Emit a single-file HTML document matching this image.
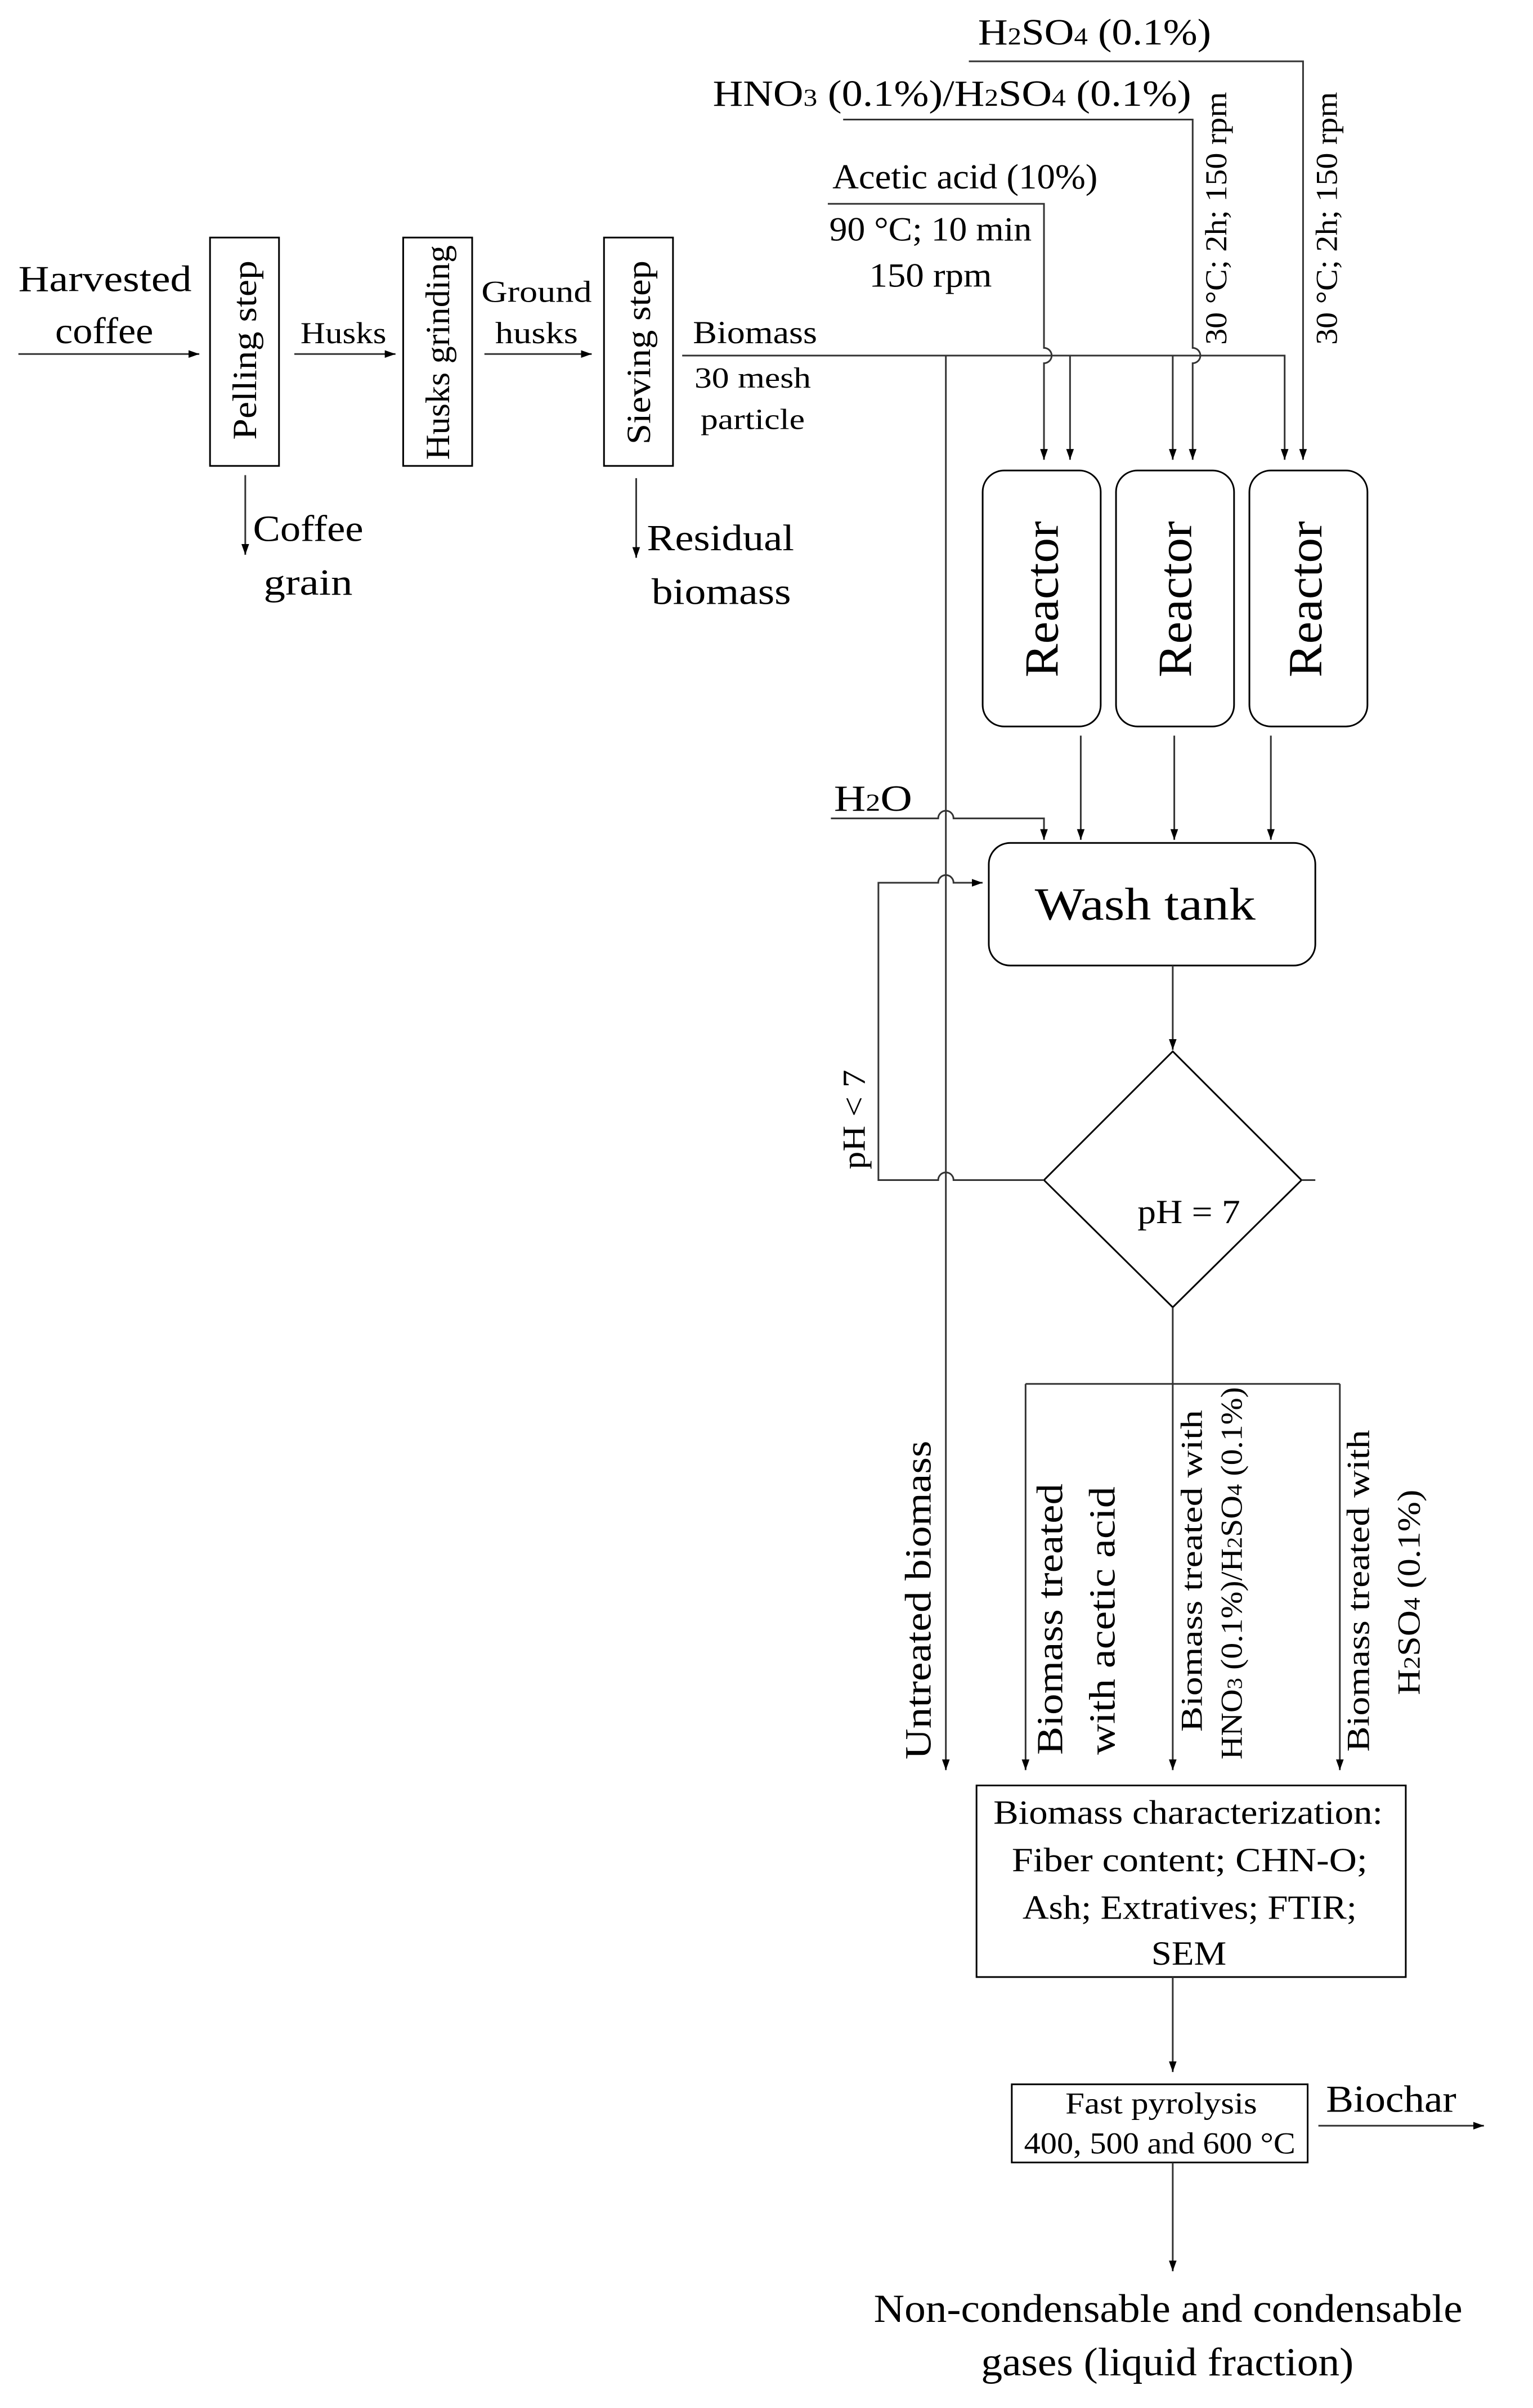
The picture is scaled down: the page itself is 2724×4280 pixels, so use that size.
<!DOCTYPE html>
<html><head><meta charset="utf-8"><style>html,body{margin:0;padding:0;background:#fff}svg{display:block}</style></head>
<body>
<svg width="2724" height="4280" viewBox="0 0 1000 1571.2" preserveAspectRatio="none" xmlns="http://www.w3.org/2000/svg" font-family="'Liberation Serif', serif" fill="#000">
<defs><marker id="a" markerWidth="8" markerHeight="8" refX="7" refY="4" orient="auto" markerUnits="userSpaceOnUse"><path d="M0,1.5 L7,4 L0,6.5 z" fill="#000"/></marker></defs>
<g stroke="#333" stroke-width="1.1" fill="none">
<line x1="12" y1="231" x2="130" y2="231" marker-end="url(#a)"/>
<rect x="137" y="155" width="45" height="149" stroke="#000"/>
<line x1="160" y1="310" x2="160" y2="362" marker-end="url(#a)"/>
<line x1="192" y1="231" x2="258" y2="231" marker-end="url(#a)"/>
<rect x="263" y="155" width="45" height="149" stroke="#000"/>
<line x1="316" y1="231" x2="386" y2="231" marker-end="url(#a)"/>
<rect x="394" y="155" width="45" height="149" stroke="#000"/>
<line x1="415" y1="312" x2="415" y2="364" marker-end="url(#a)"/>
<path d="M445,232 H838 V300" marker-end="url(#a)"/>
<line x1="617" y1="232" x2="617" y2="1155" marker-end="url(#a)"/>
<path d="M540,133 H681 V227 A5,5 0 0 1 681,237 V300" marker-end="url(#a)"/>
<line x1="698" y1="232" x2="698" y2="300" marker-end="url(#a)"/>
<path d="M550,78 H778 V227 A5,5 0 0 1 778,237 V300" marker-end="url(#a)"/>
<line x1="765" y1="232" x2="765" y2="300" marker-end="url(#a)"/>
<path d="M632,40 H850 V300" marker-end="url(#a)"/>
<rect x="641" y="307" width="77" height="167" rx="14" stroke="#000"/>
<rect x="728" y="307" width="77" height="167" rx="14" stroke="#000"/>
<rect x="815" y="307" width="77" height="167" rx="14" stroke="#000"/>
<line x1="705" y1="480" x2="705" y2="548" marker-end="url(#a)"/>
<line x1="766" y1="480" x2="766" y2="548" marker-end="url(#a)"/>
<line x1="829" y1="480" x2="829" y2="548" marker-end="url(#a)"/>
<path d="M542,534 H612 A5,5 0 0 1 622,534 H681 V548" marker-end="url(#a)"/>
<rect x="645" y="550" width="213" height="80" rx="14" stroke="#000"/>
<line x1="765" y1="630" x2="765" y2="685" marker-end="url(#a)"/>
<path d="M765,686 L849,770 L765,853 L681,770 Z" stroke="#000"/>
<line x1="849" y1="770" x2="858" y2="770"/>
<path d="M681,770 H622 A5,5 0 0 0 612,770 H573 V576 H612 A5,5 0 0 1 622,576 H641" marker-end="url(#a)"/>
<path d="M765,853 V903"/>
<path d="M669,903 H874"/>
<line x1="669" y1="903" x2="669" y2="1155" marker-end="url(#a)"/>
<line x1="765" y1="903" x2="765" y2="1155" marker-end="url(#a)"/>
<line x1="874" y1="903" x2="874" y2="1155" marker-end="url(#a)"/>
<rect x="637" y="1165" width="280" height="125" stroke="#000"/>
<line x1="765" y1="1290" x2="765" y2="1352" marker-end="url(#a)"/>
<rect x="660" y="1360" width="193" height="51" stroke="#000"/>
<line x1="860" y1="1387" x2="968" y2="1387" marker-end="url(#a)"/>
<line x1="765" y1="1411" x2="765" y2="1482" marker-end="url(#a)"/>
</g>
<g font-size="23" lengthAdjust="spacingAndGlyphs">
<text x="12" y="190" font-size="24" textLength="113" lengthAdjust="spacingAndGlyphs">Harvested</text>
<text x="36" y="224" font-size="24" textLength="64" lengthAdjust="spacingAndGlyphs">coffee</text>
<text transform="translate(167,287) rotate(-90)" font-size="22" textLength="117" lengthAdjust="spacingAndGlyphs">Pelling step</text>
<text transform="translate(293,300) rotate(-90)" font-size="22" textLength="140" lengthAdjust="spacingAndGlyphs">Husks grinding</text>
<text transform="translate(424,290) rotate(-90)" font-size="22" textLength="120" lengthAdjust="spacingAndGlyphs">Sieving step</text>
<text x="196" y="224" font-size="20" textLength="56" lengthAdjust="spacingAndGlyphs">Husks</text>
<text x="314" y="197" font-size="20" textLength="72" lengthAdjust="spacingAndGlyphs">Ground</text>
<text x="323" y="224" font-size="20" textLength="54" lengthAdjust="spacingAndGlyphs">husks</text>
<text x="165" y="353" font-size="24" textLength="72" lengthAdjust="spacingAndGlyphs">Coffee</text>
<text x="172" y="388" font-size="24" textLength="58" lengthAdjust="spacingAndGlyphs">grain</text>
<text x="422" y="359" font-size="24" textLength="96" lengthAdjust="spacingAndGlyphs">Residual</text>
<text x="425" y="394" font-size="24" textLength="91" lengthAdjust="spacingAndGlyphs">biomass</text>
<text x="452" y="224" font-size="21" textLength="81" lengthAdjust="spacingAndGlyphs">Biomass</text>
<text x="453" y="253" font-size="19" textLength="76" lengthAdjust="spacingAndGlyphs">30 mesh</text>
<text x="457" y="280" font-size="19" textLength="68" lengthAdjust="spacingAndGlyphs">particle</text>
<text x="638" y="29" font-size="24" textLength="152" lengthAdjust="spacingAndGlyphs">H<tspan font-size="16">2</tspan>SO<tspan font-size="16">4</tspan> (0.1%)</text>
<text x="465" y="69" font-size="24" textLength="312" lengthAdjust="spacingAndGlyphs">HNO<tspan font-size="16">3</tspan> (0.1%)/H<tspan font-size="16">2</tspan>SO<tspan font-size="16">4</tspan> (0.1%)</text>
<text x="543" y="123" font-size="23" textLength="173" lengthAdjust="spacingAndGlyphs">Acetic acid (10%)</text>
<text x="541" y="157" font-size="22" textLength="132" lengthAdjust="spacingAndGlyphs">90 °C; 10 min</text>
<text x="567" y="187" font-size="22" textLength="80" lengthAdjust="spacingAndGlyphs">150 rpm</text>
<text transform="translate(800,225) rotate(-90)" font-size="20" textLength="165" lengthAdjust="spacingAndGlyphs">30 °C; 2h; 150 rpm</text>
<text transform="translate(872,225) rotate(-90)" font-size="20" textLength="165" lengthAdjust="spacingAndGlyphs">30 °C; 2h; 150 rpm</text>
<text transform="translate(690,442) rotate(-90)" font-size="31" textLength="102" lengthAdjust="spacingAndGlyphs">Reactor</text>
<text transform="translate(777,442) rotate(-90)" font-size="31" textLength="102" lengthAdjust="spacingAndGlyphs">Reactor</text>
<text transform="translate(862,442) rotate(-90)" font-size="31" textLength="102" lengthAdjust="spacingAndGlyphs">Reactor</text>
<text x="544" y="529" font-size="24" textLength="51" lengthAdjust="spacingAndGlyphs">H<tspan font-size="16">2</tspan>O</text>
<text x="675" y="600" font-size="30" textLength="144" lengthAdjust="spacingAndGlyphs">Wash tank</text>
<text x="742" y="798" font-size="22" textLength="67" lengthAdjust="spacingAndGlyphs">pH = 7</text>
<text transform="translate(564,763) rotate(-90)" font-size="21" textLength="65" lengthAdjust="spacingAndGlyphs">pH &lt; 7</text>
<text transform="translate(607,1148) rotate(-90)" font-size="24" textLength="208" lengthAdjust="spacingAndGlyphs">Untreated biomass</text>
<text transform="translate(693,1145) rotate(-90)" font-size="24" textLength="177" lengthAdjust="spacingAndGlyphs">Biomass treated</text>
<text transform="translate(727,1145) rotate(-90)" font-size="24" textLength="175" lengthAdjust="spacingAndGlyphs">with acetic acid</text>
<text transform="translate(784,1130) rotate(-90)" font-size="20" textLength="210" lengthAdjust="spacingAndGlyphs">Biomass treated with</text>
<text transform="translate(810,1148) rotate(-90)" font-size="20" textLength="243" lengthAdjust="spacingAndGlyphs">HNO<tspan font-size="14">3</tspan> (0.1%)/H<tspan font-size="14">2</tspan>SO<tspan font-size="14">4</tspan> (0.1%)</text>
<text transform="translate(893,1143) rotate(-90)" font-size="21" textLength="210" lengthAdjust="spacingAndGlyphs">Biomass treated with</text>
<text transform="translate(926,1106) rotate(-90)" font-size="21" textLength="134" lengthAdjust="spacingAndGlyphs">H<tspan font-size="15">2</tspan>SO<tspan font-size="15">4</tspan> (0.1%)</text>
<text x="648" y="1190" font-size="22" textLength="254" lengthAdjust="spacingAndGlyphs">Biomass characterization:</text>
<text x="660" y="1221" font-size="22" textLength="232" lengthAdjust="spacingAndGlyphs">Fiber content; CHN-O;</text>
<text x="667" y="1252" font-size="22" textLength="218" lengthAdjust="spacingAndGlyphs">Ash; Extratives; FTIR;</text>
<text x="751" y="1282" font-size="22" textLength="49" lengthAdjust="spacingAndGlyphs">SEM</text>
<text x="695" y="1379" font-size="20" textLength="125" lengthAdjust="spacingAndGlyphs">Fast pyrolysis</text>
<text x="668" y="1405" font-size="20" textLength="177" lengthAdjust="spacingAndGlyphs">400, 500 and 600 °C</text>
<text x="865" y="1378" font-size="25" textLength="85" lengthAdjust="spacingAndGlyphs">Biochar</text>
<text x="570" y="1515" font-size="26" textLength="384" lengthAdjust="spacingAndGlyphs">Non-condensable and condensable</text>
<text x="640" y="1550" font-size="26" textLength="243" lengthAdjust="spacingAndGlyphs">gases (liquid fraction)</text>
</g>
</svg>
</body></html>
